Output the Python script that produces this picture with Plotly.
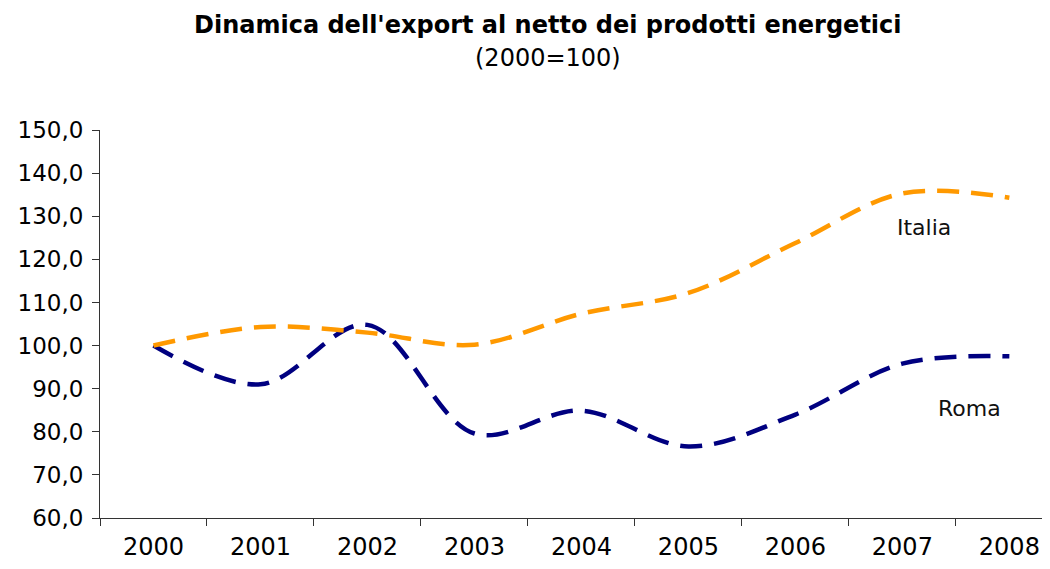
import plotly.graph_objects as go

years = ["2000", "2001", "2002", "2003", "2004", "2005", "2006", "2007", "2008"]
italia = [100.0, 104.3, 103.0, 100.2, 107.4, 112.2, 123.8, 135.3, 134.3]
roma = [100.0, 91.0, 104.8, 79.6, 84.9, 76.6, 84.0, 95.8, 97.5]
y_ticks = [60, 70, 80, 90, 100, 110, 120, 130, 140, 150]
y_tick_text = ["60,0", "70,0", "80,0", "90,0", "100,0", "110,0", "120,0", "130,0", "140,0", "150,0"]

FONT = "DejaVu Sans, Verdana, sans-serif"

fig = go.Figure()
fig.add_trace(go.Scatter(
    x=years, y=roma, mode="lines", name="Roma",
    line=dict(color="#000080", width=4.5, dash="22px,12px", shape="spline", smoothing=1.0),
    showlegend=False, hoverinfo="skip"))
fig.add_trace(go.Scatter(
    x=years, y=italia, mode="lines", name="Italia",
    line=dict(color="#FF9900", width=4.5, dash="22px,12px", shape="spline", smoothing=1.0),
    showlegend=False, hoverinfo="skip"))

# page body has an 8px default margin, so the figure is sized/offset to compensate
fig.update_layout(
    width=1042, height=561,
    margin=dict(l=92, r=0, t=122, b=51, autoexpand=False),
    paper_bgcolor="white", plot_bgcolor="white",
    font=dict(family=FONT, color="#000000"),
    xaxis=dict(
        type="category", categoryorder="array", categoryarray=years,
        range=[-0.5, 8.38], tickson="boundaries", automargin=False,
        ticks="outside", ticklen=7, tickcolor="#333333", tickwidth=1,
        showline=True, linecolor="#333333", linewidth=1,
        showgrid=False, zeroline=False,
        tickfont=dict(size=24, family=FONT, color="#000000"),
        ticklabelstandoff=7,
    ),
    yaxis=dict(
        range=[60, 150], tickvals=y_ticks, ticktext=y_tick_text, automargin=False,
        ticks="outside", ticklen=7, tickcolor="#333333", tickwidth=1,
        showline=True, linecolor="#333333", linewidth=1,
        showgrid=False, zeroline=False,
        tickfont=dict(size=23, family=FONT, color="#000000"),
        ticklabelstandoff=4,
    ),
    annotations=[
        dict(text="<b>Dinamica dell'export al netto dei prodotti energetici</b>",
             xref="paper", yref="paper", x=0.4716, y=1.2706,
             xanchor="center", yanchor="middle", showarrow=False,
             font=dict(size=24, family=FONT, color="#000000")),
        dict(text="(2000=100)",
             xref="paper", yref="paper", x=0.4716, y=1.1856,
             xanchor="center", yanchor="middle", showarrow=False,
             font=dict(size=24, family=FONT, color="#000000")),
        dict(text="Italia", xref="x", yref="y", x=7.2, y=127.5,
             xanchor="center", yanchor="middle", showarrow=False,
             font=dict(size=22, family=FONT, color="#111111")),
        dict(text="Roma", xref="x", yref="y", x=7.63, y=85.5,
             xanchor="center", yanchor="middle", showarrow=False,
             font=dict(size=22, family=FONT, color="#111111")),
    ],
)

fig.write_html("out.html")
